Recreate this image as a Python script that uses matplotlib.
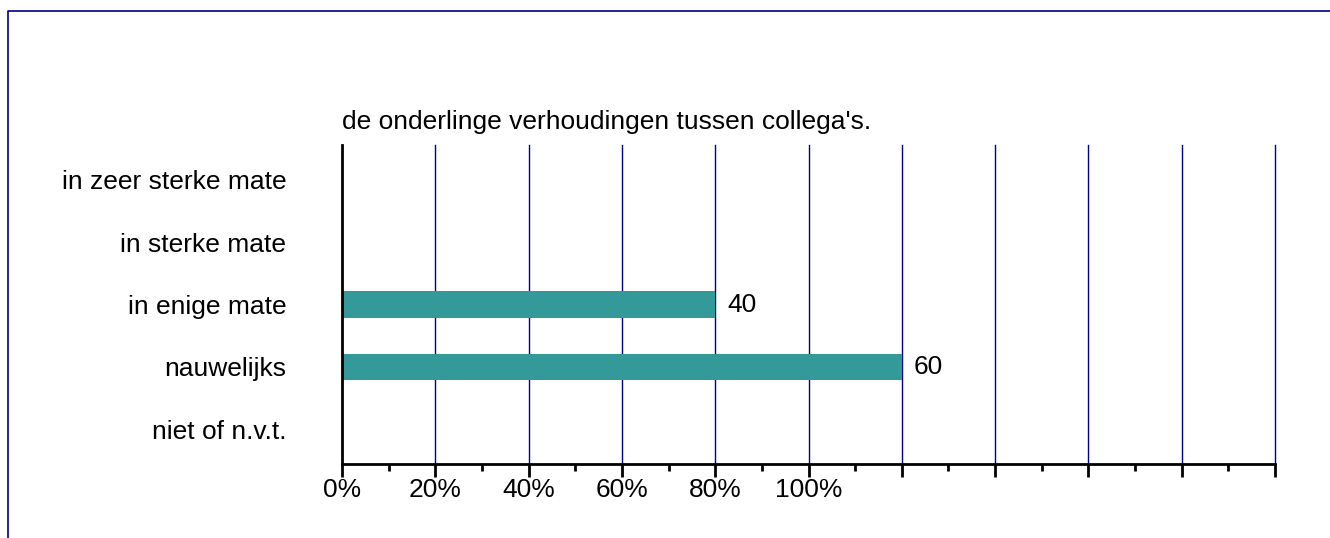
import matplotlib.pyplot as plt
from matplotlib.lines import Line2D

plt.rcParams['font.family'] = ['Liberation Sans', 'DejaVu Sans']

title = "de onderlinge verhoudingen tussen collega's."
categories = ["in zeer sterke mate", "in sterke mate", "in enige mate",
              "nauwelijks", "niet of n.v.t."]
values = [0, 0, 40, 60, 0]
major_ticks = [0, 10, 20, 30, 40, 50, 60, 70, 80, 90, 100]
minor_ticks = [5, 15, 25, 35, 45, 55, 65, 75, 85, 95]
tick_labels = ["0%", "20%", "40%", "60%", "80%", "100%", "", "", "", "", ""]

FS = 19

fig = plt.figure(figsize=(13.3, 5.38), dpi=100)
ax = fig.add_axes([342 / 1330, 1 - 464 / 538, 933 / 1330, 319 / 538])

ypos = list(range(len(categories)))
ax.barh(ypos, values, height=0.42, color="#339999", zorder=3)
for y, v in zip(ypos, values):
    if v > 0:
        ax.text(v + 1.3, y, str(v), va="center", ha="left", fontsize=FS)

ax.set_xlim(0, 100)
ax.set_ylim(len(categories) - 0.44, -0.56)
ax.set_yticks(ypos)
ax.set_yticklabels(categories, fontsize=FS)
ax.tick_params(axis="y", length=0, pad=40)

ax.set_xticks(major_ticks)
ax.set_xticks(minor_ticks, minor=True)
ax.set_xticklabels(tick_labels, fontsize=FS)
ax.tick_params(axis="x", which="major", direction="out", length=9, width=2, pad=1)
ax.tick_params(axis="x", which="minor", direction="out", length=5, width=2)

for x in major_ticks[1:]:
    ax.axvline(x, color="#00008b", linewidth=1, zorder=1, clip_on=False)

for s in ["top", "right"]:
    ax.spines[s].set_visible(False)
ax.spines["left"].set_linewidth(2)
ax.spines["bottom"].set_linewidth(2)
ax.spines["left"].set_zorder(4)
ax.spines["bottom"].set_zorder(4)

ax.text(0, 1.035, title, transform=ax.transAxes, ha="left", va="bottom", fontsize=FS)

# outer frame (only top and left visible in the reference)
fig.add_artist(Line2D([8 / 1330, 8 / 1330, 1.0], [0.0, 1 - 11 / 538, 1 - 11 / 538],
                      transform=fig.transFigure, color="#000080", linewidth=1.2))

fig.savefig("out.png", dpi=100)
